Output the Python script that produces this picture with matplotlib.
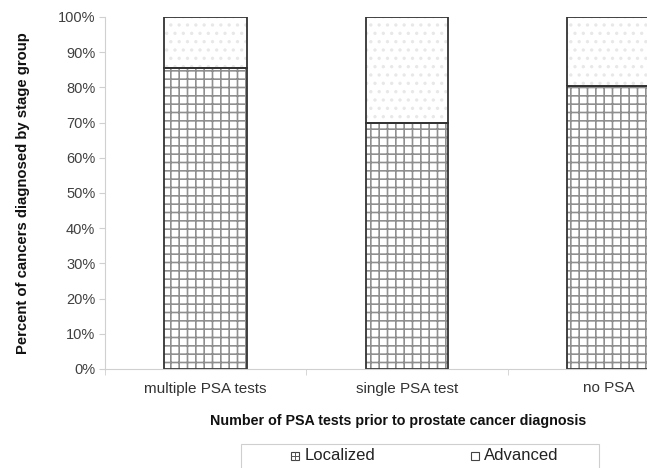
import matplotlib
matplotlib.use("Agg")
import matplotlib.pyplot as plt
from matplotlib.patches import Rectangle
from matplotlib.lines import Line2D
from matplotlib.ticker import FuncFormatter

# data (percent of cancers by stage group)
categories = ["multiple PSA tests", "single PSA test", "no PSA"]
localized = [85.5, 70.0, 80.5]
advanced = [100 - v for v in localized]
series_names = ["Localized", "Advanced"]

plt.rcParams['font.family'] = ['Liberation Sans', 'DejaVu Sans']
plt.rcParams['hatch.linewidth'] = 1.2

W, H = 647, 468
fig = plt.figure(figsize=(W / 100, H / 100), dpi=100)
# axes runs past the right edge of the figure, like the original
ax = fig.add_axes([105 / W, 1 - 369 / H, 604 / W, 352 / H])

x = list(range(len(categories)))
bw = 0.41

# hatch layers (gray hatching), then dark outlines on top
ax.bar(x, localized, bw, color='white', edgecolor='#8f8f8f', linewidth=0, hatch='++')
ax.bar(x, advanced, bw, bottom=localized, color='white', edgecolor='#e8e8e8', linewidth=0, hatch='..')
ax.bar(x, localized, bw, fill=False, edgecolor='#333333', linewidth=1.3)
ax.bar(x, advanced, bw, bottom=localized, fill=False, edgecolor='#333333', linewidth=1.3)

ax.set_xlim(-0.5, len(categories) - 0.5)
ax.set_ylim(0, 100)
ax.set_yticks(range(0, 101, 10))
ax.yaxis.set_major_formatter(FuncFormatter(lambda v, p: f"{int(v)}%"))
ax.set_xticks(x)
ax.set_xticklabels(categories)
ax.set_xticks([i + 0.5 for i in range(-1, len(categories))], minor=True)

for s in ['top', 'right']:
    ax.spines[s].set_visible(False)
for s in ['left', 'bottom']:
    ax.spines[s].set_color('#d0d0d0')
    ax.spines[s].set_linewidth(0.8)

ax.tick_params(axis='y', length=4, color='#d0d0d0', labelsize=10.5, labelcolor='#404040', pad=3)
ax.tick_params(axis='x', which='major', length=0, labelsize=11, labelcolor='#333333', pad=9)
ax.tick_params(axis='x', which='minor', length=4, color='#d0d0d0')

ax.set_ylabel("Percent of cancers diagnosed by stage group", fontsize=10.7,
              fontweight='bold', labelpad=20, color='#111111')
fig.text(398 / W, 1 - 421 / H, "Number of PSA tests prior to prostate cancer diagnosis",
         ha='center', va='center', fontsize=10.3, fontweight='bold', color='#111111')

# legend box (cut off at the bottom of the figure)
fig.add_artist(Rectangle((241 / W, -0.05), 358 / W, 0.05 + (468 - 444) / H,
                         transform=fig.transFigure, fill=False, edgecolor='#cfcfcf', linewidth=0.8))
sq = 8
ly = 456
for hx, tx, name, cross in [(291, 305, series_names[0], True), (471, 484, series_names[1], False)]:
    fig.add_artist(Rectangle((hx / W, 1 - (ly + sq / 2) / H), sq / W, sq / H,
                             transform=fig.transFigure, facecolor='white', edgecolor='#444444', linewidth=0.8))
    if cross:
        fig.add_artist(Line2D([(hx + sq / 2) / W] * 2, [1 - (ly + sq / 2) / H, 1 - (ly - sq / 2) / H],
                              transform=fig.transFigure, color='#555555', linewidth=0.7))
        fig.add_artist(Line2D([hx / W, (hx + sq) / W], [1 - ly / H] * 2,
                              transform=fig.transFigure, color='#555555', linewidth=0.7))
    fig.text(tx / W, 1 - ly / H, name, ha='left', va='center', fontsize=12, color='#222222')

fig.savefig("out.png", dpi=100)
